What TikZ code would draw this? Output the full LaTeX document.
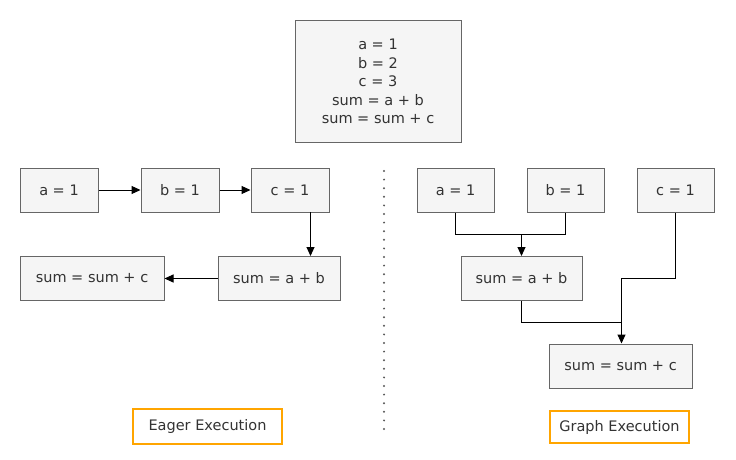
\documentclass[tikz,border=0pt]{standalone}
\usepackage{fontspec}
\setmainfont{DejaVu Sans}
\usetikzlibrary{arrows.meta}
\definecolor{boxfill}{HTML}{F5F5F5}
\definecolor{boxline}{HTML}{666666}
\definecolor{txt}{HTML}{333333}
\definecolor{orng}{HTML}{FFA500}
\begin{document}
\begin{tikzpicture}[x=1pt,y=-1pt,
  every node/.style={font=\fontsize{14.5}{18.5}\selectfont, text=txt, inner sep=0pt},
  stmt/.style={draw=boxline, fill=boxfill, line width=1pt, minimum height=44pt},
  lbl/.style={draw=orng, line width=2.2pt, fill=white},
  conn/.style={line width=1pt, -{Triangle[length=9pt,width=8pt]}},
  plain/.style={line width=1pt}]
\useasboundingbox (0,0) rectangle (736,460);
% top code box
\node[stmt, minimum width=166pt, minimum height=121pt, align=center] (code) at (378,81.5)
  {a = 1\\ b = 2\\ c = 3\\ sum = a + b\\ sum = sum + c};
% eager
\node[stmt, minimum width=78pt] (ea) at (59,190) {a = 1};
\node[stmt, minimum width=78pt] (eb) at (180,190) {b = 1};
\node[stmt, minimum width=78pt] (ec) at (290,190) {c = 1};
\node[stmt, minimum width=122pt] (esab) at (279,278.5) {sum = a + b};
\node[stmt, minimum width=144pt] (essc) at (92,278.5) {sum = sum + c};
\draw[conn] (ea) -- (eb);
\draw[conn] (eb) -- (ec);
\draw[conn] (310.5,212) coordinate (ecb) -- (ecb |- esab.north);
\draw[conn] (esab) -- (essc);
% graph
\node[stmt, minimum width=77pt] (ga) at (455.5,190) {a = 1};
\node[stmt, minimum width=77pt] (gb) at (565.5,190) {b = 1};
\node[stmt, minimum width=77pt] (gc) at (675.5,190) {c = 1};
\node[stmt, minimum width=121pt] (gsab) at (521.5,278.5) {sum = a + b};
\node[stmt, minimum width=143pt] (gssc) at (620.5,366) {sum = sum + c};
\coordinate (j1) at (521.5,234.5);
\coordinate (j2) at (621.5,322.5);
\draw[plain] (ga.south) |- (j1) -| (gb.south);
\draw[conn] (j1) -- (gsab.north);
\draw[plain] (gc.south) |- (621.5,278.5) -- (j2);
\draw[plain] (gsab.south) |- (j2);
\draw[conn] (j2) -- (j2 |- gssc.north);
% separator
\coordinate (s1) at (384,171);
\coordinate (s2) at (384,430);
\draw[line width=2.2pt, dash pattern=on 0pt off 8.6pt, line cap=round, color=boxline!85!black] (s1) -- (s2);
% labels
\node[lbl, minimum width=149pt, minimum height=35pt] (eager) at (207.5,426.5) {Eager Execution};
\node[lbl, minimum width=139pt, minimum height=32pt] (graph) at (619.5,427) {Graph Execution};
\end{tikzpicture}
\end{document}
